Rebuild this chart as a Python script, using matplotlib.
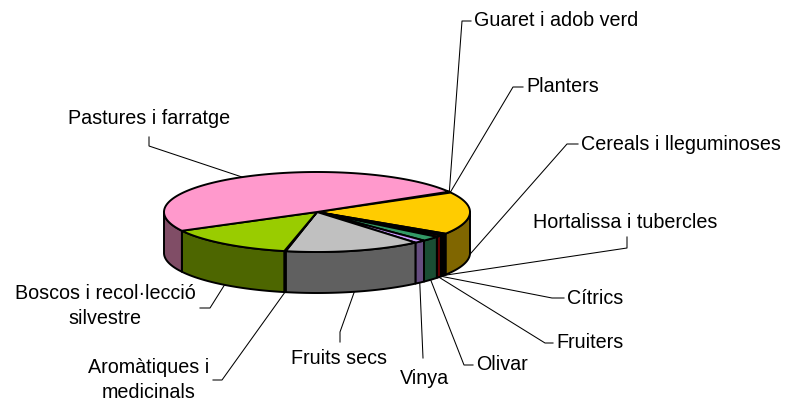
import numpy as np
import matplotlib.pyplot as plt
from matplotlib.patches import Polygon
from matplotlib.colors import to_rgb

# slices in clockwise order, starting at the back right
labels = ["Guaret i adob verd", "Planters", "Cereals i lleguminoses",
          "Hortalissa i tubercles", "Cítrics", "Fruiters", "Olivar", "Vinya",
          "Fruits secs", "Aromàtiques i\nmedicinals",
          "Boscos i recol·lecció\nsilvestre", "Pastures i farratge"]
shares = [0.2, 0.2, 17.2, 0.7, 0.15, 0.7, 2.0, 1.2, 14.4, 0.15, 13.8, 49.3]
colors = ["#993300", "#800000", "#FFCC00", "#000000", "#003300", "#C00000",
          "#339966", "#CC99FF", "#C0C0C0", "#FFFF99", "#99CC00", "#FF99CC"]

# label placement (pixels): text position, alignment, leader elbow points
label_pos = [(474, 21, "left"), (526, 87, "left"), (581, 144, "left"),
             (533, 222, "left"), (567, 298, "left"), (556, 343, "left"),
             (476, 365, "left"), (424, 378, "center"), (339, 358, "center"),
             (149, 380, "center"), (105, 306, "center"), (68, 118, "left")]
elbows = [[(471, 21), (462, 21)], [(523, 87), (513, 87)],
          [(578, 144), (567, 144)], [(627, 237), (627, 248)],
          [(564, 298), (552, 298)], [(553, 343), (545, 343)],
          [(473, 365), (464, 365)], [(423, 358)],
          [(340, 342), (340, 332)], [(213, 380), (222, 380)],
          [(200, 308), (210, 308)], [(149, 137), (149, 146)]]

start_angle = 30.5
cx, cy, rx, ry, depth = 317, 212, 153, 40, 41


def pt(a, dz=0.0):
    r = np.radians(a)
    return cx + rx * np.cos(r), cy - ry * np.sin(r) + dz


def arc(a1, a2, dz=0.0):
    n = max(int(abs(a2 - a1)) + 2, 3)
    return [pt(a, dz) for a in np.linspace(a1, a2, n)]


def shade(c, f=0.5):
    return tuple(v * f for v in to_rgb(c))


fig = plt.figure(figsize=(7.87, 4.03), dpi=100)
ax = fig.add_axes([0, 0, 1, 1])
ax.set_xlim(0, 787)
ax.set_ylim(403, 0)
ax.axis("off")
plt.rcParams["font.family"] = ["Liberation Sans", "DejaVu Sans"]

total = sum(shares)
cum = np.concatenate([[0], np.cumsum(shares)]) / total * 360
his = start_angle - cum[:-1]
los = start_angle - cum[1:]

# side walls (front half only)
for lo, hi, c in zip(los, his, colors):
    a1, a2 = max(lo, -180), min(hi, 0)
    if a2 > a1:
        pts = arc(a1, a2) + arc(a2, a1, depth)
        ax.add_patch(Polygon(pts, closed=True, fc=shade(c), ec="black",
                             lw=1.4, zorder=1, joinstyle="round"))

# top faces
for lo, hi, c in zip(los, his, colors):
    pts = [(cx, cy)] + arc(hi, lo)
    ax.add_patch(Polygon(pts, closed=True, fc=c, ec="black", lw=1.4,
                         zorder=2, joinstyle="round"))

# labels and leader lines
for i, lab in enumerate(labels):
    mid = (los[i] + his[i]) / 2
    if np.sin(np.radians(mid)) < 0:
        anchor = pt(mid, depth)
    else:
        anchor = pt(mid)
    path = elbows[i] + [anchor]
    xs, ys = zip(*path)
    ax.plot(xs, ys, color="black", lw=0.75, zorder=3)
    x, y, ha = label_pos[i]
    ax.text(x, y, lab, ha=ha, va="center", fontsize=14.25,
            multialignment="center", linespacing=1.45, zorder=4)

fig.savefig("out.png", dpi=100)
